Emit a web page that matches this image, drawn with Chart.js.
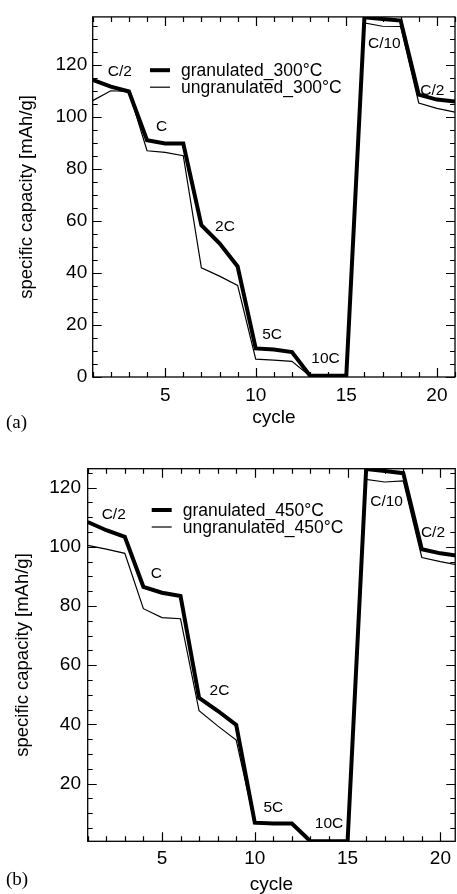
<!DOCTYPE html>
<html>
<head>
<meta charset="utf-8">
<title>Rate capability – granulated vs ungranulated</title>
<script src="https://cdn.jsdelivr.net/npm/chart.js@4.4.0/dist/chart.umd.min.js"></script>
<style>
  html, body { margin: 0; padding: 0; background: #fff; overflow: hidden; }
  #wrapA { position: absolute; left: 0; top: 0; }
  #wrapB { position: absolute; left: 0; top: 440px; }
</style>
</head>
<body>
<div id="wrapA"><canvas id="chartA" width="457" height="440"></canvas></div>
<div id="wrapB"><canvas id="chartB" width="457" height="454"></canvas></div>
<script>
// cycle numbers (x axis)
const cycles = [1, 2, 3, 4, 5, 6, 7, 8, 9, 10, 11, 12, 13, 14, 15, 16, 17, 18, 19, 20, 21];

// panel (a) - 300°C
const gran300   = [114.3, 111.7, 109.8, 91.1, 89.8, 89.8, 58.4, 51.4, 42.5, 11.0, 10.6, 9.6, 0.5, 0.5, 0.5, 138.4, 137.7, 137.1, 108.6, 106.7, 106.0];
const ungran300 = [106.3, 110.1, 109.8, 87.0, 86.4, 85.1, 42.0, 38.8, 35.2, 6.9, 6.5, 6.0, 0.3, 0.3, 0.3, 136.2, 134.9, 134.8, 105.4, 103.3, 101.9];

// panel (b) - 450°C
const gran450   = [108.4, 105.6, 103.4, 86.5, 84.5, 83.4, 49.0, 44.6, 39.8, 6.8, 6.5, 6.5, 0.5, 0.5, 0.5, 126.3, 125.6, 124.9, 99.2, 97.8, 96.9];
const ungran450 = [100.5, 99.2, 97.8, 79.1, 76.1, 75.7, 44.6, 39.5, 34.7, 6.5, 6.3, 6.3, 0.5, 0.5, 0.5, 122.8, 121.9, 122.3, 96.4, 95.0, 93.8];

// C-rate notes (text, cycle, capacity)
const rateLabels = ['C/2', 'C', '2C', '5C', '10C', 'C/10', 'C/2'];
const rateXA = [2.5, 4.8, 8.3, 10.9, 13.85, 17.1, 19.75];
const rateYA = [117.5, 96.3, 57.7, 16.3, 7.0, 128.2, 110.0];
const rateXB = [2.4, 4.7, 8.1, 11.0, 14.0, 17.1, 19.6];
const rateYB = [111.0, 91.0, 51.3, 11.7, 6.5, 115.2, 104.8];

// tick labels
const xTickVals  = [5, 10, 15, 20];
const yTickValsA = [0, 20, 40, 60, 80, 100, 120];
const yTickValsB = [20, 40, 60, 80, 100, 120];

const FONT = "'Liberation Sans', Arial, sans-serif";

function toPoints(vals) {
    return cycles.map((c, i) => ({ x: c, y: vals[i] }));
}

// frame with inward ticks, C-rate notes, legend and panel tag
const decoPlugin = {
    id: 'deco',
    afterDatasetsDraw(chart, args, o) {
        const { ctx, chartArea: a, scales: { x, y } } = chart;
        ctx.save();
        ctx.strokeStyle = '#000';
        ctx.lineWidth = 1.3;
        ctx.strokeRect(a.left, a.top, a.right - a.left, a.bottom - a.top);

        ctx.lineWidth = 1.2;
        ctx.beginPath();
        for (let c = Math.ceil(x.min); c <= x.max; c++) {
            const px = Math.round(x.getPixelForValue(c)) + 0.5;
            const len = c % 5 === 0 ? 9 : 5;
            ctx.moveTo(px, a.bottom); ctx.lineTo(px, a.bottom - len);
            ctx.moveTo(px, a.top); ctx.lineTo(px, a.top + len);
        }
        for (let v = Math.ceil(y.min / 5) * 5; v <= y.max; v += 5) {
            const py = Math.round(y.getPixelForValue(v)) + 0.5;
            const len = v % 20 === 0 ? 9 : 5;
            ctx.moveTo(a.left, py); ctx.lineTo(a.left + len, py);
            ctx.moveTo(a.right, py); ctx.lineTo(a.right - len, py);
        }
        ctx.stroke();

        // C-rate notes
        ctx.fillStyle = '#000';
        ctx.font = '15.5px ' + FONT;
        ctx.textAlign = 'center';
        ctx.textBaseline = 'middle';
        o.noteText.forEach((t, i) => {
            ctx.fillText(t, x.getPixelForValue(o.noteX[i]), y.getPixelForValue(o.noteY[i]));
        });

        // legend
        ctx.font = '17.5px ' + FONT;
        ctx.textAlign = 'left';
        chart.data.datasets.forEach((ds, i) => {
            const lx = a.left + o.legendX;
            const ly = a.top + o.legendY + i * o.rowGap;
            ctx.lineWidth = ds.borderWidth;
            ctx.beginPath();
            ctx.moveTo(lx, ly);
            ctx.lineTo(lx + 20, ly);
            ctx.stroke();
            ctx.fillText(ds.label, lx + 31, ly + 1);
        });

        // panel tag (a)/(b)
        ctx.font = "19px 'Liberation Serif', 'Times New Roman', serif";
        ctx.fillText(o.tag, o.tagX, o.tagY);
        ctx.restore();
    }
};

function makeChart(id, p) {
    const ctx = document.getElementById(id).getContext('2d');
    return new Chart(ctx, {
        type: 'line',
        data: {
            datasets: [
                { label: p.names[0], data: toPoints(p.thick), borderColor: '#000', borderWidth: 4, pointRadius: 0, tension: 0, borderJoinStyle: 'miter' },
                { label: p.names[1], data: toPoints(p.thin), borderColor: '#000', borderWidth: 1.2, pointRadius: 0, tension: 0 }
            ]
        },
        options: {
            responsive: false,
            animation: false,
            devicePixelRatio: 1,
            layout: { padding: { top: p.padTop, right: p.padRight, left: 0, bottom: 0 } },
            plugins: {
                legend: { display: false },
                tooltip: { enabled: false },
                deco: {
                    noteText: rateLabels, noteX: p.noteX, noteY: p.noteY,
                    legendX: p.legendX, legendY: p.legendY, rowGap: 17,
                    tag: p.tag, tagX: 6, tagY: p.tagY
                }
            },
            scales: {
                x: {
                    type: 'linear',
                    min: 1,
                    max: p.xMax,
                    grid: { display: false, drawTicks: false },
                    border: { display: false },
                    afterBuildTicks: s => { s.ticks = xTickVals.map(v => ({ value: v })); },
                    afterFit: s => { s.height = p.xHeight; },
                    ticks: { color: '#000', font: { family: FONT, size: 19 }, padding: p.xTickPad, maxRotation: 0, autoSkip: false },
                    title: { display: true, text: 'cycle', color: '#000', font: { family: FONT, size: 19, lineHeight: 1 }, padding: { top: 0, bottom: p.xTitlePad } }
                },
                y: {
                    min: p.yMin,
                    max: p.yMax,
                    grid: { display: false, drawTicks: false },
                    border: { display: false },
                    afterBuildTicks: s => { s.ticks = p.yTicks.map(v => ({ value: v })); },
                    afterFit: s => { s.width = p.yWidth; },
                    ticks: { color: '#000', font: { family: FONT, size: 19 }, padding: p.yTickPad, autoSkip: false },
                    title: { display: true, text: 'specific capacity [mAh/g]', color: '#000', font: { family: FONT, size: 18.5, lineHeight: 1 }, padding: { top: p.yTitlePad, bottom: 0 } }
                }
            }
        },
        plugins: [decoPlugin]
    });
}

makeChart('chartA', {
    names: ['granulated_300°C', 'ungranulated_300°C'],
    thick: gran300, thin: ungran300,
    noteX: rateXA, noteY: rateYA,
    xMax: 21, yMin: 0, yMax: 138.5, yTicks: yTickValsA,
    padTop: 14.7, padRight: 2, xHeight: 63, yWidth: 92.7,
    xTickPad: 7, xTitlePad: 13, yTickPad: 5.5, yTitlePad: 18,
    legendX: 57.3, legendY: 53.3, tag: '(a)', tagY: 422.7
});

makeChart('chartB', {
    names: ['granulated_450°C', 'ungranulated_450°C'],
    thick: gran450, thin: ungran450,
    noteX: rateXB, noteY: rateYB,
    xMax: 20.8, yMin: 0.5, yMax: 126.4, yTicks: yTickValsB,
    padTop: 28.7, padRight: 1, xHeight: 52.7, yWidth: 87.7,
    xTickPad: 6, xTitlePad: 0, yTickPad: 6.7, yTitlePad: 14,
    legendX: 64, legendY: 41.3, tag: '(b)', tagY: 440
});
</script>
</body>
</html>
